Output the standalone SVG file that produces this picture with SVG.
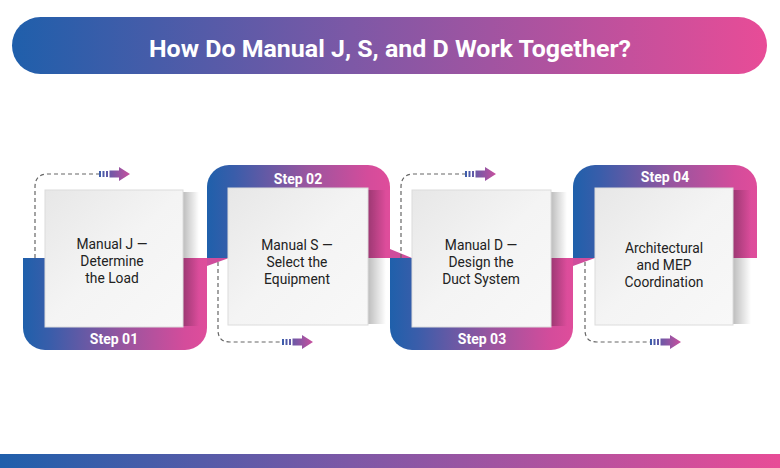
<svg xmlns="http://www.w3.org/2000/svg" width="780" height="468" viewBox="0 0 780 468">
  <defs>
    <linearGradient id="gTitle" x1="0" y1="0" x2="1" y2="0">
      <stop offset="0" stop-color="#1f5fab"/>
      <stop offset="0.45" stop-color="#7d58a6"/>
      <stop offset="1" stop-color="#e84c97"/>
    </linearGradient>
    <linearGradient id="gBand" x1="0" y1="0" x2="1" y2="0">
      <stop offset="0" stop-color="#1f60ab"/>
      <stop offset="0.15" stop-color="#3a5daa"/>
      <stop offset="0.55" stop-color="#9a559f"/>
      <stop offset="0.88" stop-color="#d44c9b"/>
      <stop offset="1" stop-color="#df4d9b"/>
    </linearGradient>
    <linearGradient id="gCard" x1="0" y1="0" x2="1" y2="1">
      <stop offset="0" stop-color="#e7e7e7"/>
      <stop offset="0.5" stop-color="#f4f4f4"/>
      <stop offset="1" stop-color="#f8f8f8"/>
    </linearGradient>
    <linearGradient id="gShadow" x1="0" y1="0" x2="1" y2="0">
      <stop offset="0" stop-color="#000" stop-opacity="0.26"/>
      <stop offset="1" stop-color="#000" stop-opacity="0"/>
    </linearGradient>
    <linearGradient id="gArrow" x1="0" y1="0" x2="1" y2="0">
      <stop offset="0" stop-color="#3a5dab"/>
      <stop offset="1" stop-color="#c9509e"/>
    </linearGradient>
    <path id="arr" fill="url(#gArrow)" d="M0,-3H2V3H0Z M3.5,-3H5.5V3H3.5Z M7,-3H9V3H7Z M10.5,-3.5H21V3.5H10.5Z M20,-7L31,0L20,7Z"/>
  </defs>
  <style>
    .card { fill: url(#gCard); stroke: #dcdcdc; stroke-width: 1; }
    .shadow { fill: url(#gShadow); }
    .band { fill: url(#gBand); }
    .fold { fill: #cf4d9c; }
    .lbl { font-family: Roboto, "Liberation Sans", sans-serif; font-size: 13.8px; fill: #222; text-anchor: middle; }
    .step { font-family: Roboto, "Liberation Sans", sans-serif; font-size: 14px; font-weight: 700; fill: #fff; text-anchor: middle; }
    .dash { fill: none; stroke: #666; stroke-width: 1.2; stroke-dasharray: 4 3; }
  </style>

  <g id="title">
    <rect x="12" y="17" width="755" height="57" rx="28.5" fill="url(#gTitle)"/>
    <text x="390" y="57" font-family="Roboto, 'Liberation Sans', sans-serif" font-size="23" font-weight="700" fill="#fff" text-anchor="middle" textLength="482" lengthAdjust="spacingAndGlyphs">How Do Manual J, S, and D Work Together?</text>
  </g>

  <g id="ribbon">
    <path class="band" d="M23,258 V328 A22,22 0 0 0 45,350 H185 A22,22 0 0 0 207,328 V258 Z"/>
    <path class="band" d="M207,258 V187 A22,22 0 0 1 229,165 H368 A22,22 0 0 1 390,187 V258 Z"/>
    <path class="band" d="M390,258 V328 A22,22 0 0 0 412,350 H551 A22,22 0 0 0 573,328 V258 Z"/>
    <path class="band" d="M573,258 V187 A22,22 0 0 1 595,165 H735 A22,22 0 0 1 757,187 V258 Z"/>
    <polygon class="fold" points="207,258 229,258 207,266"/>
    <polygon class="fold" points="390,249 412,258 390,258"/>
    <polygon class="fold" points="573,258 595,258 573,266"/>
  </g>

  <g id="connectors">
    <path class="dash" d="M35,258 V187 Q35,174 48,174 H99"/>
    <use href="#arr" x="99" y="174"/>
    <path class="dash" d="M218,262 V330 Q218,342 230,342 H282"/>
    <use href="#arr" x="282" y="342"/>
    <path class="dash" d="M401,258 V187 Q401,174 414,174 H465"/>
    <use href="#arr" x="465" y="174"/>
    <path class="dash" d="M585,262 V330 Q585,342 597,342 H650"/>
    <use href="#arr" x="650" y="342"/>
  </g>

  <g id="step1">
    <rect class="shadow" x="183" y="192" width="16" height="134"/>
    <rect class="card" x="45" y="190" width="138" height="137"/>
    <text class="lbl" x="112" y="249">Manual J —</text>
    <text class="lbl" x="112" y="266">Determine</text>
    <text class="lbl" x="112" y="283">the Load</text>
    <text class="step" x="114" y="344">Step 01</text>
  </g>

  <g id="step2">
    <rect class="shadow" x="368" y="190" width="18" height="134"/>
    <rect class="card" x="228" y="188" width="140" height="137"/>
    <text class="lbl" x="297" y="250">Manual S —</text>
    <text class="lbl" x="297" y="267">Select the</text>
    <text class="lbl" x="297" y="284">Equipment</text>
    <text class="step" x="298" y="184">Step 02</text>
  </g>

  <g id="step3">
    <rect class="shadow" x="551" y="192" width="16" height="134"/>
    <rect class="card" x="412" y="190" width="139" height="137"/>
    <text class="lbl" x="481" y="250">Manual D —</text>
    <text class="lbl" x="481" y="267">Design the</text>
    <text class="lbl" x="481" y="284">Duct System</text>
    <text class="step" x="482" y="344">Step 03</text>
  </g>

  <g id="step4">
    <rect class="shadow" x="733" y="190" width="18" height="134"/>
    <rect class="card" x="595" y="188" width="138" height="137"/>
    <text class="lbl" x="664" y="253">Architectural</text>
    <text class="lbl" x="664" y="270">and MEP</text>
    <text class="lbl" x="664" y="287">Coordination</text>
    <text class="step" x="665" y="182">Step 04</text>
  </g>

  <rect id="footer" x="0" y="454" width="780" height="14" fill="url(#gTitle)"/>
</svg>
